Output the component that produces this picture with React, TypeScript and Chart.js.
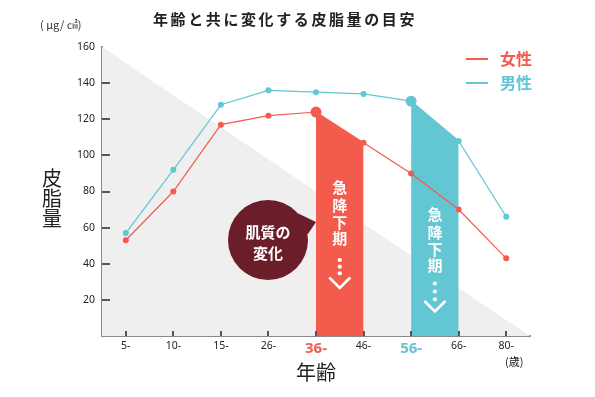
import { useEffect, useRef } from 'react';
import { Chart, registerables } from 'chart.js';

Chart.register(...registerables);

// ---- data ----
const ageLabels = ['5-', '10-', '15-', '26-', '36-', '46-', '56-', '66-', '80-'];
const femaleValues = [53, 80, 117, 122, 124, 107, 90, 70, 43];
const maleValues = [57, 92, 128, 136, 135, 134, 130, 108, 66];
const yMin = 0;
const yMax = 160;
const yStep = 20;
const femaleDropStart = '36-';
const femaleDropEnd = '46-';
const maleDropStart = '56-';
const maleDropEnd = '66-';
const titleText = '年齢と共に変化する皮脂量の目安';
const unitText = '( μg/ ㎠)';
const yTitleChars = ['皮', '脂', '量'];
const xTitleText = '年齢';
const xUnitText = '(歳)';
const legendItems = ['女性', '男性'];
const dropText = ['急', '降', '下', '期'];
const bubbleLines = ['肌質の', '変化'];

const RED = '#f35c4d';
const BLUE = '#62c6d3';
const DARK = '#6b1e2a';
const GRAY = '#efefef';
const AXIS = '#8a8a8a';
const TEXT = '#222222';
const JP = '"Noto Sans CJK JP", "Noto Sans", sans-serif';
const NUM = '"Noto Sans", "Open Sans", sans-serif';

function bandData(values: number[], start: string, end: string) {
  const s = ageLabels.indexOf(start);
  const e = ageLabels.indexOf(end);
  return values.map((v, i) => (i >= s && i <= e ? v : null));
}

const decorPlugin = {
  id: 'decor',
  beforeDatasetsDraw(chart: any) {
    const { ctx, chartArea: a } = chart;
    ctx.save();
    ctx.fillStyle = GRAY;
    ctx.beginPath();
    ctx.moveTo(a.left, a.top);
    ctx.lineTo(a.right, a.bottom);
    ctx.lineTo(a.left, a.bottom);
    ctx.closePath();
    ctx.fill();
    ctx.restore();
  },
  afterDatasetsDraw(chart: any) {
    const { ctx, chartArea: a, scales } = chart;
    const x = scales.x;
    const y = scales.y;
    ctx.save();
    // inner tick marks
    ctx.strokeStyle = '#555';
    ctx.lineWidth = 2;
    for (let v = yMin + yStep; v <= yMax - yStep; v += yStep) {
      const py = Math.round(y.getPixelForValue(v));
      ctx.beginPath();
      ctx.moveTo(a.left, py);
      ctx.lineTo(a.left + 8, py);
      ctx.stroke();
    }
    ageLabels.forEach((_, i) => {
      const px = Math.round(x.getPixelForValue(i));
      ctx.beginPath();
      ctx.moveTo(px, a.bottom);
      ctx.lineTo(px, a.bottom - 5);
      ctx.stroke();
    });

    // vertical band texts
    const drawBand = (start: string, end: string, charY: number[], dotY: number[], chevTop: number, chevH: number) => {
      const cx = (x.getPixelForValue(ageLabels.indexOf(start)) + x.getPixelForValue(ageLabels.indexOf(end))) / 2;
      ctx.fillStyle = '#ffffff';
      ctx.font = `bold 15px ${JP}`;
      ctx.textAlign = 'center';
      ctx.textBaseline = 'middle';
      dropText.forEach((c, i) => ctx.fillText(c, cx, charY[i]));
      dotY.forEach((dy) => {
        ctx.beginPath();
        ctx.arc(cx, dy, 2.1, 0, Math.PI * 2);
        ctx.fill();
      });
      ctx.strokeStyle = '#ffffff';
      ctx.lineWidth = 2.6;
      ctx.beginPath();
      ctx.moveTo(cx - 10.5, chevTop);
      ctx.lineTo(cx, chevTop + chevH);
      ctx.lineTo(cx + 10.5, chevTop);
      ctx.stroke();
    };
    drawBand(femaleDropStart, femaleDropEnd, [187.5, 205, 222, 238], [260, 266.7, 273.3], 277.5, 10.5);
    drawBand(maleDropStart, maleDropEnd, [214.5, 232, 249, 265.5], [283.5, 291.5, 299.3], 301, 10.5);

    // speech bubble
    const bx = 268;
    const by = 240;
    const r = 40;
    ctx.fillStyle = DARK;
    ctx.beginPath();
    ctx.arc(bx, by, r, 0, Math.PI * 2);
    ctx.fill();
    const a1 = (-42 * Math.PI) / 180;
    const a2 = (-8 * Math.PI) / 180;
    ctx.beginPath();
    ctx.moveTo(bx + r * Math.cos(a1), by + r * Math.sin(a1));
    ctx.lineTo(x.getPixelForValue(ageLabels.indexOf(femaleDropStart)), 222);
    ctx.lineTo(bx + r * Math.cos(a2), by + r * Math.sin(a2));
    ctx.closePath();
    ctx.fill();
    ctx.fillStyle = '#ffffff';
    ctx.font = `bold 15px ${JP}`;
    ctx.textAlign = 'center';
    ctx.textBaseline = 'middle';
    ctx.fillText(bubbleLines[0], bx, 232);
    ctx.fillText(bubbleLines[1], bx, 253);
    ctx.restore();
  },
  afterDraw(chart: any) {
    const { ctx, chartArea: a, scales } = chart;
    const x = scales.x;
    ctx.save();
    // title
    ctx.fillStyle = TEXT;
    ctx.font = `bold 15px ${JP}`;
    ctx.textAlign = 'left';
    ctx.textBaseline = 'middle';
    (ctx as any).letterSpacing = '2.6px';
    ctx.fillText(titleText, 153, 19);
    (ctx as any).letterSpacing = '0px';
    // unit
    ctx.font = `11px ${JP}`;
    ctx.fillStyle = '#333';
    ctx.fillText(unitText, 40, 25);
    // y title vertical
    ctx.font = `20px ${JP}`;
    ctx.fillStyle = TEXT;
    ctx.textAlign = 'center';
    yTitleChars.forEach((c, i) => ctx.fillText(c, 52, 178 + i * 20));
    // x title
    ctx.fillText(xTitleText, (a.left + a.right) / 2, 372);
    // age unit
    ctx.font = `11px ${JP}`;
    ctx.fillText(xUnitText, x.getPixelForValue(ageLabels.length - 1) + 8, 362);
    // legend
    const colors = [RED, BLUE];
    legendItems.forEach((t, i) => {
      const ly = 59 + i * 24;
      ctx.strokeStyle = colors[i];
      ctx.lineWidth = 2;
      ctx.beginPath();
      ctx.moveTo(466, ly);
      ctx.lineTo(488, ly);
      ctx.stroke();
      ctx.fillStyle = colors[i];
      ctx.font = `bold 16px ${JP}`;
      ctx.textAlign = 'left';
      ctx.fillText(t, 500, ly);
    });
    ctx.restore();
  },
};

export default function App() {
  const ref = useRef<HTMLCanvasElement>(null);
  useEffect(() => {
    if (!ref.current) return;
    const femaleIdx = ageLabels.indexOf(femaleDropStart);
    const maleIdx = ageLabels.indexOf(maleDropStart);
    const chart = new Chart(ref.current, {
      type: 'line',
      data: {
        labels: ageLabels,
        datasets: [
          {
            label: '女性',
            data: femaleValues,
            borderColor: RED,
            backgroundColor: RED,
            borderWidth: 1.2,
            pointRadius: (c: any) => (c.dataIndex === femaleIdx ? 5.5 : 3),
            pointBackgroundColor: RED,
            pointBorderWidth: 0,
            fill: false,
            order: 0,
          },
          {
            label: '男性',
            data: maleValues,
            borderColor: BLUE,
            backgroundColor: BLUE,
            borderWidth: 1.2,
            pointRadius: (c: any) => (c.dataIndex === maleIdx ? 5.5 : 3),
            pointBackgroundColor: BLUE,
            pointBorderWidth: 0,
            fill: false,
            order: 1,
          },
          {
            label: 'femaleBand',
            data: bandData(femaleValues, femaleDropStart, femaleDropEnd),
            borderWidth: 0,
            borderColor: 'rgba(0,0,0,0)',
            backgroundColor: RED,
            pointRadius: 0,
            fill: 'origin',
            spanGaps: false,
            tension: 0,
            order: 2,
          },
          {
            label: 'maleBand',
            data: bandData(maleValues, maleDropStart, maleDropEnd),
            borderWidth: 0,
            borderColor: 'rgba(0,0,0,0)',
            backgroundColor: BLUE,
            pointRadius: 0,
            fill: 'origin',
            spanGaps: false,
            tension: 0,
            order: 3,
          },
        ],
      },
      options: {
        responsive: false,
        animation: false,
        devicePixelRatio: 1,
        layout: { padding: { left: 0, top: 47, right: 65, bottom: 0 } },
        plugins: {
          legend: { display: false },
          tooltip: { enabled: false },
          title: { display: false },
        },
        scales: {
          x: {
            type: 'category',
            offset: true,
            z: 1,
            grid: { display: true, drawOnChartArea: false, drawTicks: false },
            border: { display: true, color: AXIS, width: 2 },
            ticks: {
              padding: 4,
              color: (c: any) => (c.index === femaleIdx ? RED : c.index === maleIdx ? BLUE : TEXT),
              font: (c: any) =>
                c.index === femaleIdx || c.index === maleIdx
                  ? { family: NUM, size: 15, weight: 'bold' }
                  : { family: NUM, size: 10.5 },
            },
            afterFit: (s: any) => {
              s.height = 61;
            },
          },
          y: {
            min: yMin,
            max: yMax,
            z: 1,
            grid: { display: true, drawOnChartArea: false, drawTicks: false },
            border: { display: true, color: AXIS, width: 2 },
            ticks: {
              stepSize: yStep,
              padding: 7,
              color: TEXT,
              font: { family: NUM, size: 10.5 },
              callback: (v: any) => (v === yMin ? '' : String(v)),
            },
            afterFit: (s: any) => {
              s.width = 102;
            },
          },
        },
      },
      plugins: [decorPlugin],
    } as any);
    return () => chart.destroy();
  }, []);
  return (
    <div style={{ position: 'absolute', left: 0, top: 0, width: 595, height: 397, background: '#fff' }}>
      <canvas ref={ref} width={595} height={397} style={{ display: 'block' }} />
    </div>
  );
}
